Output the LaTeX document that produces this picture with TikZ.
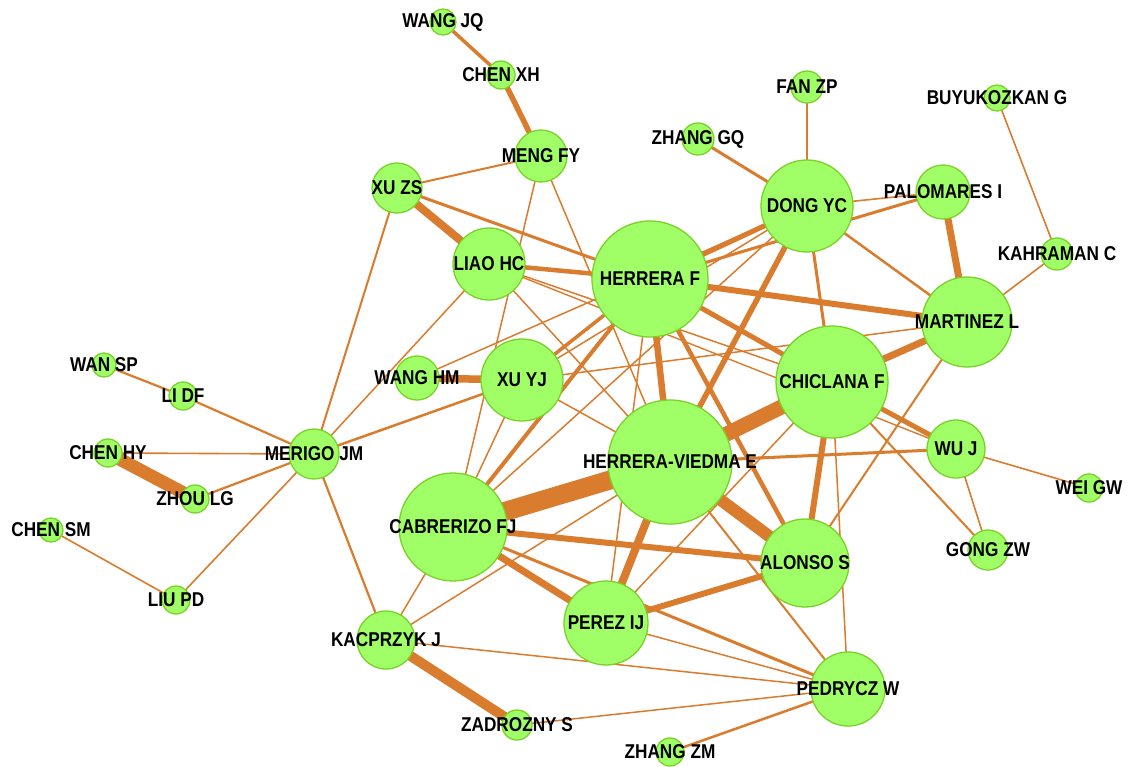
\documentclass[tikz,border=0pt]{standalone}
\usepackage{fontspec}
\setmainfont{Liberation Sans}[FakeStretch=0.86]
\usetikzlibrary{backgrounds}
\definecolor{edgec}{RGB}{217,124,46}
\definecolor{nodefill}{RGB}{160,255,102}
\definecolor{nodeline}{RGB}{122,210,40}
\begin{document}
\begin{tikzpicture}[x=1pt,y=-1pt,
  vtx/.style={circle,draw=nodeline,fill=nodefill,line width=1.3pt,inner sep=0pt,minimum size=#1},
  lbl/.style={font=\fontsize{20}{21}\selectfont\bfseries,inner sep=0pt,text=black},
  lnk/.style={draw=edgec,line width=#1}]
% vertices
\foreach \n/\x/\y/\r in {
  wangjq/443/22/13, chenxh/501/75/14, mengfy/541/156/26, xuzs/397/188/25,
  liaohc/489/264/36, herreraf/650/279/58, zhanggq/698/139/16, fanzp/807/87/16,
  dongyc/807/206/46, palomares/943/192/27, buyukozkan/997/98/13, kahraman/1057/254/16,
  martinez/967/322/45, chiclana/832/382/56, wuj/956/449/29, weigw/1089/488/14,
  gongzw/988/550/20, alonso/805/563/44, pedrycz/848/689/37, zhangzm/670/752/14,
  perez/606/623/42, hv/670/462/62, cabrerizo/453/527/54, kacprzyk/386/640/29,
  zadrozny/517/725/15, xuyj/522/380/41, wanghm/417/378/22, merigo/314/454/25,
  lidf/183/396/14, wansp/104/365/12, chenhy/108/453/14, zhoulg/195/499/14,
  chensm/51/530/12, liupd/176/600/14}
  {\node[vtx={2*\r pt}] (\n) at (\x,\y) {};}
% connectors
\begin{scope}[on background layer]
\path[use as bounding box,fill=white] (0,0) rectangle (1129,765);
\foreach \a/\b/\w in {
  wansp/lidf/2.2, lidf/merigo/2.2, chenhy/merigo/1.6, chenhy/zhoulg/13,
  zhoulg/merigo/2.2, chensm/liupd/1.6, liupd/merigo/1.6, merigo/xuzs/2,
  merigo/liaohc/1.5, merigo/xuyj/2.5, merigo/kacprzyk/2.2,
  wangjq/chenxh/3.5, chenxh/mengfy/5.5, mengfy/xuzs/2, mengfy/cabrerizo/1.5,
  mengfy/hv/1.5, xuzs/liaohc/8, xuzs/herreraf/3, liaohc/herreraf/4.5,
  liaohc/hv/1.5, liaohc/chiclana/1.5, liaohc/wuj/1.4,
  zhanggq/dongyc/3, fanzp/dongyc/1.6, dongyc/palomares/1.6, herreraf/palomares/3,
  palomares/martinez/7, buyukozkan/kahraman/1.6, kahraman/martinez/1.6,
  dongyc/martinez/2.5, dongyc/chiclana/3, dongyc/herreraf/5, dongyc/hv/5.5,
  dongyc/wanghm/1.5, dongyc/xuyj/1.5, dongyc/cabrerizo/1.5,
  herreraf/martinez/6, herreraf/chiclana/5, herreraf/hv/6.5, herreraf/alonso/4.5,
  herreraf/cabrerizo/4, herreraf/xuyj/3.5, herreraf/perez/1.5,
  xuyj/wanghm/7.5, xuyj/martinez/1.5, xuyj/hv/1.5, xuyj/cabrerizo/1.5,
  hv/cabrerizo/19, hv/chiclana/15, hv/alonso/12, hv/perez/8, hv/wuj/3,
  hv/pedrycz/2, hv/kacprzyk/1.5,
  chiclana/martinez/7, chiclana/alonso/6, chiclana/wuj/5, chiclana/gongzw/2,
  chiclana/pedrycz/1.5, chiclana/perez/1.5, martinez/alonso/2,
  wuj/weigw/1.6, wuj/gongzw/1.6,
  cabrerizo/alonso/6, cabrerizo/perez/7, cabrerizo/pedrycz/3, cabrerizo/kacprzyk/1.5,
  perez/alonso/6, perez/pedrycz/1.5, pedrycz/zhangzm/2.5, pedrycz/zadrozny/1.5,
  pedrycz/kacprzyk/1.5, kacprzyk/zadrozny/10}
  {\draw[lnk=\w pt] (\a.center) -- (\b.center);}
\end{scope}
% labels
\foreach \n/\t in {
  wangjq/WANG JQ, chenxh/CHEN XH, mengfy/MENG FY, xuzs/XU ZS, liaohc/LIAO HC,
  herreraf/HERRERA F, zhanggq/ZHANG GQ, fanzp/FAN ZP, dongyc/DONG YC,
  palomares/PALOMARES I, buyukozkan/BUYUKOZKAN G, kahraman/KAHRAMAN C,
  martinez/MARTINEZ L, chiclana/CHICLANA F, wuj/WU J, weigw/WEI GW,
  gongzw/GONG ZW, alonso/ALONSO S, pedrycz/PEDRYCZ W, zhangzm/ZHANG ZM,
  perez/PEREZ IJ, hv/HERRERA-VIEDMA E, cabrerizo/CABRERIZO FJ,
  kacprzyk/KACPRZYK J, zadrozny/ZADROZNY S, xuyj/XU YJ, wanghm/WANG HM,
  merigo/MERIGO JM, lidf/LI DF, wansp/WAN SP, chenhy/CHEN HY, zhoulg/ZHOU LG,
  chensm/CHEN SM, liupd/LIU PD}
  {\node[lbl] (l\n) at (\n) {\t};}
\end{tikzpicture}
\end{document}
